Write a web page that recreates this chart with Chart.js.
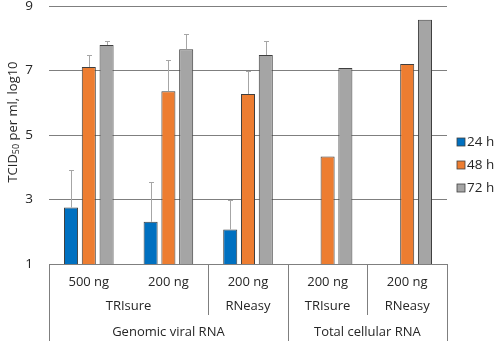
<!DOCTYPE html>
<html>
<head>
<meta charset="utf-8">
<script src="https://cdn.jsdelivr.net/npm/chart.js@4.4.0/dist/chart.umd.min.js"></script>
<style>
  html, body { margin: 0; padding: 0; background: #fff; }
  #wrap { width: 498px; height: 341px; position: relative; }
</style>
</head>
<body>
<div id="wrap"><canvas id="tcidChart"></canvas></div>
<script>
// amounts (first label row), methods (second row), RNA type (third row)
const categories = ['500 ng', '200 ng', '200 ng', '200 ng', '200 ng'];
const methodLabels = ['TRIsure', 'RNeasy', 'TRIsure', 'RNeasy'];
const methodSpans = [[0, 1], [2, 2], [3, 3], [4, 4]];
const typeLabels = ['Genomic viral RNA', 'Total cellular RNA'];
const typeSpans = [[0, 2], [3, 4]];

const seriesNames = ['24 h', '48 h', '72 h'];
const values24 = [2.75, 2.31, 2.07, null, null];
const values48 = [7.11, 6.36, 6.27, 4.33, 7.2];
const values72 = [7.79, 7.66, 7.48, 7.08, 8.57];

// upper error (SD)
const err24 = [1.15, 1.23, 0.93, null, null];
const err48 = [0.36, 0.97, 0.73, null, null];
const err72 = [0.14, 0.47, 0.44, null, null];

const yTicks = [1, 3, 5, 7, 9];
const colors = ['#0070c0', '#ed7d31', '#a5a5a5'];

const FONT = '"Open Sans", "DejaVu Sans", sans-serif';
const TEXT = '#262626';
const LINE = '#7f7f7f';

const errorBars = {
  id: 'errorBars',
  afterDatasetsDraw(chart) {
    const ctx = chart.ctx;
    const y = chart.scales.y;
    const errs = [err24, err48, err72];
    ctx.save();
    ctx.strokeStyle = '#a6a6a6';
    ctx.lineWidth = 1;
    chart.data.datasets.forEach((ds, di) => {
      const meta = chart.getDatasetMeta(di);
      meta.data.forEach((bar, i) => {
        const e = errs[di][i];
        if (e == null || ds.data[i] == null) return;
        const x = Math.round(bar.x) + 0.5;
        const y0 = y.getPixelForValue(ds.data[i]);
        const y1 = Math.round(y.getPixelForValue(ds.data[i] + e)) + 0.5;
        ctx.beginPath();
        ctx.moveTo(x, y0);
        ctx.lineTo(x, y1);
        ctx.moveTo(x - 2.5, y1);
        ctx.lineTo(x + 2.5, y1);
        ctx.stroke();
      });
    });
    ctx.restore();
  }
};

const xLabels = {
  id: 'xLabels',
  afterDraw(chart) {
    const ctx = chart.ctx;
    const x = chart.scales.x;
    const area = chart.chartArea;
    const H = chart.height;
    const half = (x.getPixelForValue(1) - x.getPixelForValue(0)) / 2;
    const edge = (i) => x.getPixelForValue(i) - half;
    ctx.save();
    ctx.strokeStyle = LINE;
    ctx.lineWidth = 1;
    const vline = (px, y2) => {
      const xx = Math.round(px) + 0.5;
      ctx.beginPath();
      ctx.moveTo(xx, area.bottom);
      ctx.lineTo(xx, y2);
      ctx.stroke();
    };
    // full-height separators between RNA types
    typeSpans.forEach((s) => vline(edge(s[0]), H));
    vline(edge(categories.length), H);
    // shorter separators between methods inside a type
    methodSpans.forEach((s) => {
      if (!typeSpans.some((t) => t[0] === s[0])) vline(edge(s[0]), area.bottom + 51);
    });

    ctx.fillStyle = TEXT;
    ctx.font = '13px ' + FONT;
    ctx.textAlign = 'center';
    ctx.textBaseline = 'middle';
    categories.forEach((c, i) => ctx.fillText(c, x.getPixelForValue(i), area.bottom + 18));
    methodLabels.forEach((m, i) => {
      const s = methodSpans[i];
      ctx.fillText(m, (x.getPixelForValue(s[0]) + x.getPixelForValue(s[1])) / 2, area.bottom + 42);
    });
    typeLabels.forEach((t, i) => {
      const s = typeSpans[i];
      ctx.fillText(t, (x.getPixelForValue(s[0]) + x.getPixelForValue(s[1])) / 2, area.bottom + 68);
    });
    ctx.restore();
  }
};

const yTitle = {
  id: 'yTitle',
  afterDraw(chart) {
    const ctx = chart.ctx;
    const big = '13px ' + FONT;
    const small = '9px ' + FONT;
    const parts = [['TCID', big, 0], ['50', small, 3], [' per ml, log10', big, 0]];
    ctx.save();
    ctx.translate(13, 122);
    ctx.rotate(-Math.PI / 2);
    ctx.fillStyle = TEXT;
    ctx.textBaseline = 'middle';
    ctx.textAlign = 'left';
    let total = 0;
    parts.forEach((p) => { ctx.font = p[1]; total += ctx.measureText(p[0]).width; });
    let pos = -total / 2;
    parts.forEach((p) => {
      ctx.font = p[1];
      ctx.fillText(p[0], pos, p[2]);
      pos += ctx.measureText(p[0]).width;
    });
    ctx.restore();
  }
};

const sideLegend = {
  id: 'sideLegend',
  afterDraw(chart) {
    const ctx = chart.ctx;
    ctx.save();
    ctx.font = '13.5px ' + FONT;
    ctx.textBaseline = 'middle';
    ctx.fillStyle = TEXT;
    seriesNames.forEach((name, i) => {
      const cy = 142 + i * 23;
      ctx.fillStyle = colors[i];
      ctx.fillRect(457, cy - 4, 8, 8);
      ctx.strokeStyle = '#404040';
      ctx.lineWidth = 0.8;
      ctx.strokeRect(457, cy - 4, 8, 8);
      ctx.fillStyle = TEXT;
      ctx.fillText(name, 467, cy + 0.5);
    });
    ctx.restore();
  }
};

const datasets = [values24, values48, values72].map((vals, i) => ({
  label: seriesNames[i],
  data: vals,
  backgroundColor: colors[i],
  borderColor: '#3f3f3f',
  borderWidth: 1,
  barPercentage: 0.79,
  categoryPercentage: 0.67
}));

new Chart(document.getElementById('tcidChart'), {
  type: 'bar',
  data: { labels: categories, datasets: datasets },
  options: {
    responsive: true,
    maintainAspectRatio: false,
    animation: false,
    layout: { padding: { top: 6, right: 51, bottom: 77, left: 0 } },
    plugins: {
      legend: { display: false },
      tooltip: { enabled: false }
    },
    scales: {
      x: {
        grid: { display: false },
        border: { display: false },
        ticks: { display: false },
        afterFit: (s) => { s.height = 0; }
      },
      y: {
        min: 1,
        max: 9,
        afterFit: (s) => { s.width = 49; s.paddingTop = 0; s.paddingBottom = 0; },
        afterBuildTicks: (s) => { s.ticks = yTicks.map((v) => ({ value: v })); },
        grid: { color: LINE, lineWidth: 1, drawTicks: false },
        border: { display: false },
        ticks: {
          padding: 16,
          color: TEXT,
          font: { family: FONT, size: 13.5 }
        }
      }
    }
  },
  plugins: [errorBars, xLabels, yTitle, sideLegend]
});
</script>
</body>
</html>
